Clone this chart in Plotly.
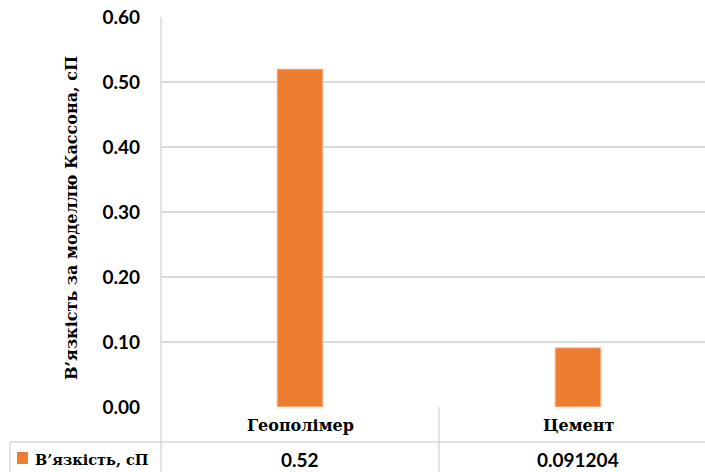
import plotly.graph_objects as go

# Casson-model viscosity by binder type
categories = ["Геополімер", "Цемент"]
viscosity = [0.52, 0.091204]
series_name = "В’язкість, сП"
y_title = "В’язкість за моделлю Кассона, сП"
y_ticks = [0.0, 0.1, 0.2, 0.3, 0.4, 0.5, 0.6]

W, H = 705, 472
ML, MR, MT, MB = 161, 0, 17, 65
PW, PH = W - ML - MR, H - MT - MB

BAR_COLOR = "#ED7D31"
GRID = "#D9D9D9"
SERIF = "DejaVu Serif"
SANS = "Lato"


def px_x(px):
    return (px - ML) / PW


def px_y(py):
    return (H - MB - py) / PH


fig = go.Figure(
    go.Bar(
        x=list(range(len(categories))),
        y=viscosity,
        width=0.165,
        marker=dict(color=BAR_COLOR, line=dict(color="#F8CBAD", width=1)),
        name=series_name,
        hoverinfo="y",
    )
)

shapes = []
annotations = []

# data table grid
line = dict(color=GRID, width=1.5)
shapes.append(dict(type="line", xref="paper", yref="paper",
                   x0=px_x(161), x1=px_x(161), y0=1, y1=px_y(472), line=line))
shapes.append(dict(type="line", xref="x", yref="paper",
                   x0=0.5, x1=0.5, y0=0, y1=px_y(472), line=line))
shapes.append(dict(type="line", xref="paper", yref="paper",
                   x0=px_x(10), x1=1, y0=px_y(442), y1=px_y(442), line=line))
shapes.append(dict(type="line", xref="paper", yref="paper",
                   x0=px_x(10), x1=px_x(10), y0=px_y(442), y1=px_y(472), line=line))

# legend key inside the table
shapes.append(dict(type="rect", xref="paper", yref="paper",
                   x0=px_x(17), x1=px_x(28), y0=px_y(464), y1=px_y(452),
                   fillcolor=BAR_COLOR, line=dict(width=0)))
annotations.append(dict(text=f"<b>{series_name}</b>", xref="paper", yref="paper",
                        x=px_x(33), y=px_y(459), xanchor="left", yanchor="middle",
                        showarrow=False,
                        font=dict(family=SERIF, size=14.5, color="#000")))

for i, (cat, val) in enumerate(zip(categories, viscosity)):
    annotations.append(dict(text=f"<b>{cat}</b>", xref="x", yref="paper",
                            x=i, y=px_y(425), yanchor="middle", showarrow=False,
                            font=dict(family=SERIF, size=16, color="#000")))
    annotations.append(dict(text=f"<b>{val:g}</b>", xref="x", yref="paper",
                            x=i, y=px_y(459), yanchor="middle", showarrow=False,
                            font=dict(family=SANS, size=19, color="#000")))

annotations.append(dict(text=f"<b>{y_title}</b>", xref="paper", yref="paper",
                        x=px_x(72), y=px_y(218), textangle=-90,
                        xanchor="center", yanchor="middle", showarrow=False,
                        font=dict(family=SERIF, size=16, color="#000")))

fig.update_layout(
    width=W, height=H,
    margin=dict(l=ML, r=MR, t=MT, b=MB, pad=0),
    paper_bgcolor="white", plot_bgcolor="white",
    showlegend=False,
    shapes=shapes,
    annotations=annotations,
    xaxis=dict(range=[-0.5, -0.5 + PW / 278], showticklabels=False,
               showgrid=False, zeroline=False, showline=False, fixedrange=True),
    yaxis=dict(range=[0, 0.6], tickvals=y_ticks, tickformat=".2f",
               showgrid=True, gridcolor=GRID, gridwidth=1.5,
               zeroline=False, showline=False, ticks="",
               ticklabelstandoff=20,
               tickfont=dict(family=SANS, size=19, color="#000", weight="bold")),
)

fig.write_html("out.html")
